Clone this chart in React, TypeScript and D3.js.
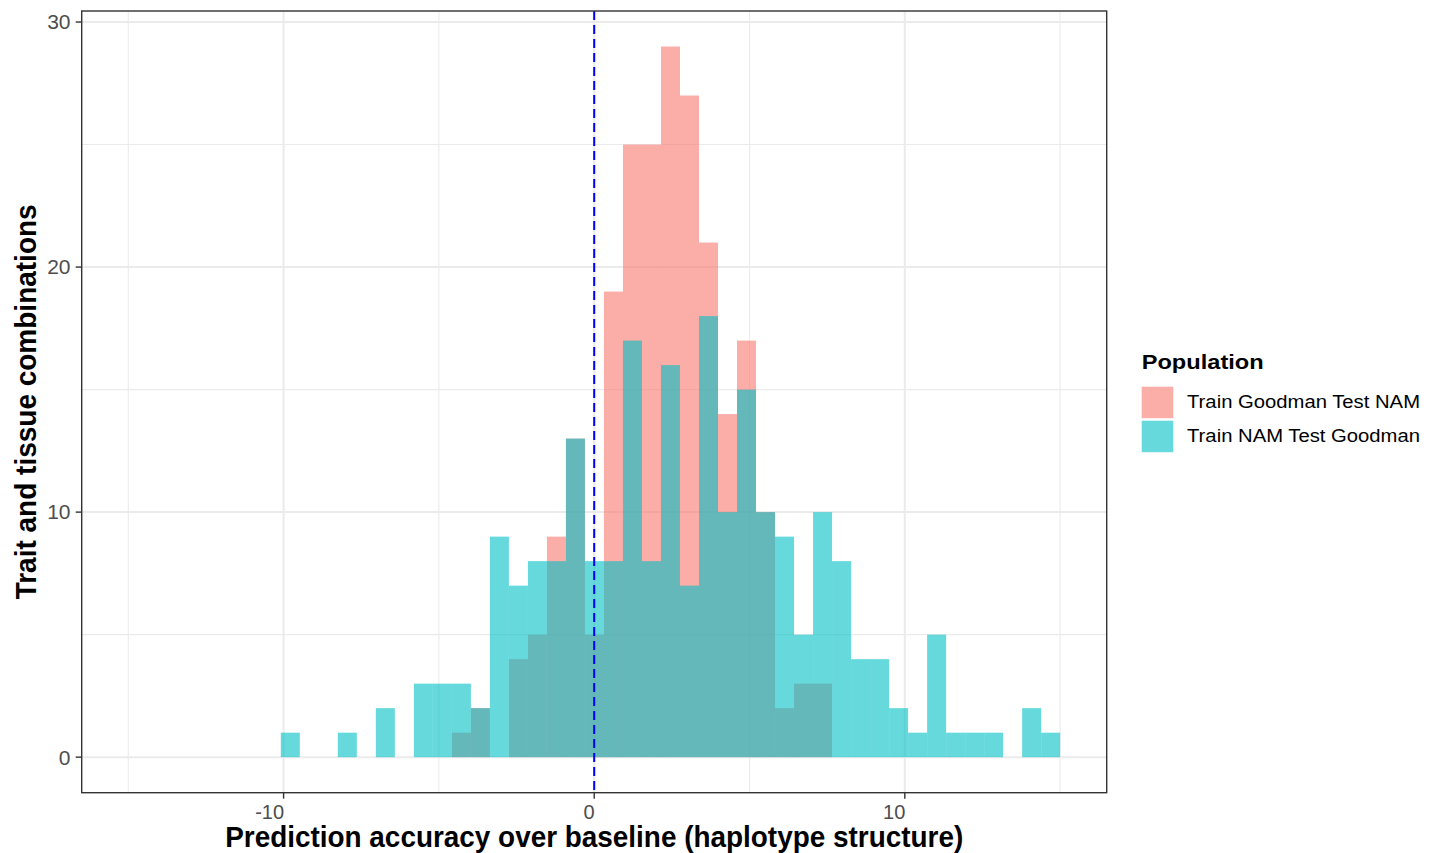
import React from "react";
import * as d3 from "d3";

// ---- data ----
const binStart = -10.09;
const binWidth = 0.612;
const seriesNames = ["Train Goodman Test NAM", "Train NAM Test Goodman"];
const seriesColors = ["#F8766D", "#00BFC4"];
const goodmanCounts = [
  0, 0, 0, 0, 0, 0, 0, 0, 0, 1, 2, 0, 4, 5, 9, 13, 5, 19, 25, 25, 29, 27, 21,
  14, 17, 10, 2, 3, 3, 0, 0, 0, 0, 0, 0, 0, 0, 0, 0, 0, 0,
];
const namCounts = [
  1, 0, 0, 1, 0, 2, 0, 3, 3, 3, 2, 9, 7, 8, 8, 13, 8, 8, 17, 8, 16, 7, 18, 10,
  15, 10, 9, 5, 10, 8, 4, 4, 2, 1, 5, 1, 1, 1, 0, 2, 1,
];
const xMajorTicks = [-10, 0, 10];
const xMinorTicks = [-15, -5, 5, 15];
const yMajorTicks = [0, 10, 20, 30];
const yMinorTicks = [5, 15, 25];
const xDomain = [-16.5, 16.5];
const yDomain = [-1.45, 30.45];
const vlineX = 0;
const xTitle = "Prediction accuracy over baseline (haplotype structure)";
const yTitle = "Trait and tissue combinations";
const legendTitle = "Population";

const FONT = "'Liberation Sans', Arial, Helvetica, sans-serif";

export default function App() {
  const panel = { left: 81.7, right: 1106.7, top: 11, bottom: 792.7 };
  const x = d3.scaleLinear().domain(xDomain).range([panel.left, panel.right]);
  const y = d3.scaleLinear().domain(yDomain).range([panel.bottom, panel.top]);

  const series = [goodmanCounts, namCounts];

  return (
    <svg
      width={1435}
      height={853}
      style={{ position: "absolute", left: 0, top: 0, background: "#fff" }}
      fontFamily={FONT}
    >
      <rect x={0} y={0} width={1435} height={853} fill="#fff" />
      {/* grid */}
      <g>
        {xMinorTicks.map((t) => (
          <line key={"xm" + t} x1={x(t)} x2={x(t)} y1={panel.top} y2={panel.bottom} stroke="#EBEBEB" strokeWidth={1.1} />
        ))}
        {yMinorTicks.map((t) => (
          <line key={"ym" + t} x1={panel.left} x2={panel.right} y1={y(t)} y2={y(t)} stroke="#EBEBEB" strokeWidth={1.1} />
        ))}
        {xMajorTicks.map((t) => (
          <line key={"xM" + t} x1={x(t)} x2={x(t)} y1={panel.top} y2={panel.bottom} stroke="#EBEBEB" strokeWidth={2} />
        ))}
        {yMajorTicks.map((t) => (
          <line key={"yM" + t} x1={panel.left} x2={panel.right} y1={y(t)} y2={y(t)} stroke="#EBEBEB" strokeWidth={2} />
        ))}
      </g>
      {/* bars */}
      {series.map((counts, si) => (
        <g key={si} fill={seriesColors[si]} fillOpacity={0.6}>
          {counts.map((c, i) =>
            c > 0 ? (
              <rect
                key={i}
                x={x(binStart + i * binWidth)}
                width={x(binStart + (i + 1) * binWidth) - x(binStart + i * binWidth)}
                y={y(c)}
                height={y(0) - y(c)}
              />
            ) : null
          )}
        </g>
      ))}
      {/* vline */}
      <line
        x1={x(vlineX)}
        x2={x(vlineX)}
        y1={panel.top}
        y2={panel.bottom}
        stroke="#0000FF"
        strokeWidth={2}
        strokeDasharray="9,5"
      />
      {/* panel border */}
      <rect
        x={panel.left}
        y={panel.top}
        width={panel.right - panel.left}
        height={panel.bottom - panel.top}
        fill="none"
        stroke="#333333"
        strokeWidth={1.4}
      />
      {/* x axis ticks */}
      {xMajorTicks.map((t) => (
        <g key={"xt" + t}>
          <line x1={x(t)} x2={x(t)} y1={panel.bottom} y2={panel.bottom + 6} stroke="#333333" strokeWidth={1.4} />
          <text x={x(t) + 0.5} y={818.5} textAnchor="end" fontSize={20} fill="#4D4D4D">
            {t}
          </text>
        </g>
      ))}
      {/* y axis ticks */}
      {yMajorTicks.map((t) => (
        <g key={"yt" + t}>
          <line x1={panel.left - 6} x2={panel.left} y1={y(t)} y2={y(t)} stroke="#333333" strokeWidth={1.4} />
          <text x={70.5} y={y(t)} dy="0.35em" textAnchor="end" fontSize={21} fill="#4D4D4D">
            {t}
          </text>
        </g>
      ))}
      {/* axis titles */}
      <text
        x={(panel.left + panel.right) / 2}
        y={846.5}
        textAnchor="middle"
        fontSize={29}
        fontWeight="bold"
        fill="#000"
        textLength={738}
        lengthAdjust="spacingAndGlyphs"
      >
        {xTitle}
      </text>
      <text
        transform={`translate(36,${(panel.top + panel.bottom) / 2}) rotate(-90)`}
        textAnchor="middle"
        fontSize={29}
        fontWeight="bold"
        fill="#000"
        textLength={395}
        lengthAdjust="spacingAndGlyphs"
      >
        {yTitle}
      </text>
      {/* legend */}
      <text x={1141.7} y={369.3} fontSize={21} fontWeight="bold" fill="#000" textLength={122} lengthAdjust="spacingAndGlyphs">
        {legendTitle}
      </text>
      {seriesNames.map((name, i) => (
        <g key={name}>
          <rect x={1141.7} y={386.7 + i * 34} width={31.6} height={31.5} fill={seriesColors[i]} fillOpacity={0.6} />
          <text x={1187} y={407.6 + i * 34} fontSize={17.5} fill="#000" textLength={233} lengthAdjust="spacingAndGlyphs">
            {name}
          </text>
        </g>
      ))}
    </svg>
  );
}
